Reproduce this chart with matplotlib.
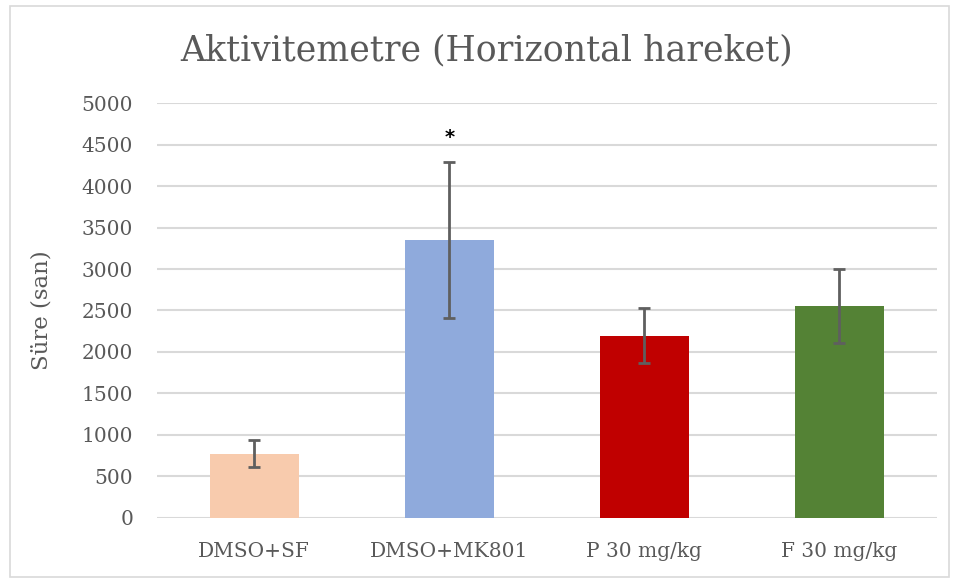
import matplotlib.pyplot as plt
from matplotlib.patches import Rectangle

groups = ['DMSO+SF', 'DMSO+MK801', 'P 30 mg/kg', 'F 30 mg/kg']
means = [775, 3350, 2195, 2555]
errors = [160, 940, 330, 445]
colors = ['#F8CBAD', '#8FAADC', '#C00000', '#548235']
y_ticks = [0, 500, 1000, 1500, 2000, 2500, 3000, 3500, 4000, 4500, 5000]

plt.rcParams['font.family'] = 'DejaVu Serif'
text_color = '#595959'

fig = plt.figure(figsize=(9.61, 5.82), dpi=100)
ax = fig.add_axes([0.163, 0.11, 0.812, 0.713])

x = range(len(groups))
ax.bar(x, means, width=0.456, color=colors, zorder=2)
ax.errorbar(x, means, yerr=errors, fmt='none', ecolor='#5F5F5F',
            elinewidth=2, capsize=4.3, capthick=2, zorder=3)

# significance mark
ax.text(1, 4590, '*', ha='center', va='center', fontsize=14,
        family='DejaVu Sans', fontweight='bold', color='black')

ax.set_xlim(-0.5, 3.5)
ax.set_ylim(0, 5000)
ax.set_yticks(y_ticks)
ax.set_xticks(list(x))
ax.set_xticklabels(groups)
ax.grid(axis='y', color='#D9D9D9', linewidth=1.5, zorder=0)
ax.set_axisbelow(True)
for s in ax.spines.values():
    s.set_visible(False)
ax.tick_params(length=0, labelsize=14.5, colors=text_color)
ax.tick_params(axis='y', pad=17)
ax.tick_params(axis='x', pad=17)

ax.set_ylabel('Süre (san)', fontsize=16.5, color=text_color)
ax.yaxis.set_label_coords(-0.133, 0.5)
fig.text(0.506, 0.914, 'Aktivitemetre (Horizontal hareket)', ha='center',
         va='center', fontsize=25, color=text_color)

fig.patches.append(Rectangle((0.01, 0.008), 0.978, 0.982, transform=fig.transFigure,
                             fill=False, edgecolor='#D9D9D9', linewidth=1.2))

fig.savefig('out.png', dpi=100)
